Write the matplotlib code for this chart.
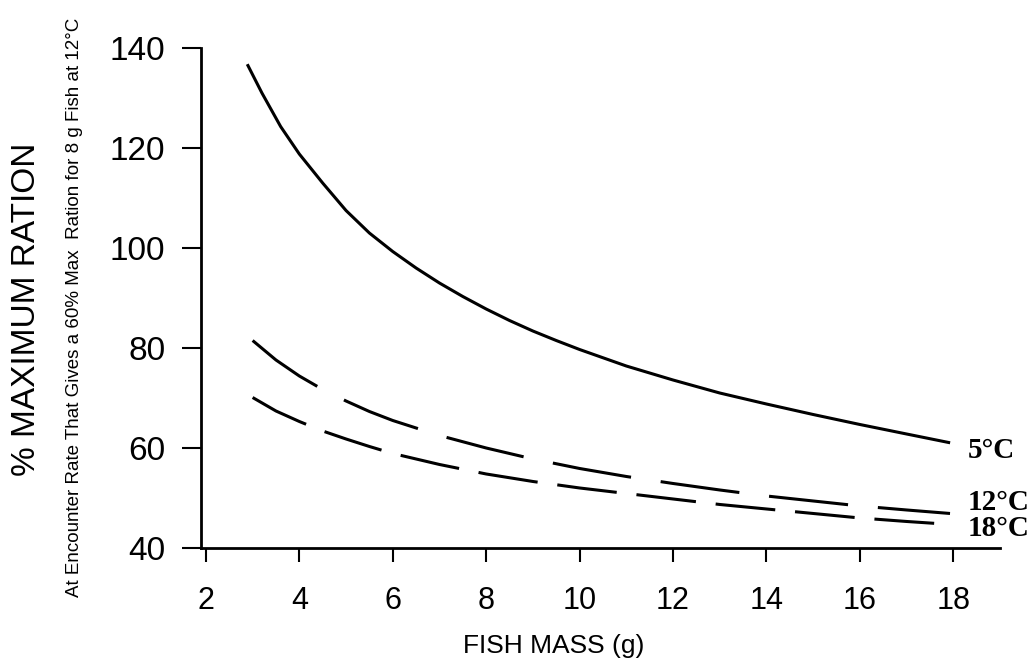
import matplotlib
matplotlib.use("Agg")
import matplotlib.pyplot as plt

# Data
x5 = [2.9, 3.2, 3.6, 4.0, 4.5, 5.0, 5.5, 6.0, 6.5, 7.0, 7.5, 8.0, 8.5, 9.0, 9.5,
      10, 11, 12, 13, 14, 15, 16, 17, 17.9]
y5 = [136.5, 131, 124.3, 118.8, 113, 107.5, 103, 99.3, 96, 93, 90.3, 87.8, 85.5,
      83.4, 81.5, 79.7, 76.4, 73.6, 71, 68.8, 66.7, 64.7, 62.8, 61.1]
x12 = [3.0, 3.5, 4.0, 4.5, 5.0, 5.5, 6.0, 7.0, 8.0, 9.0, 10, 11, 12, 13, 14, 15,
       16, 17, 17.93]
y12 = [81.5, 77.6, 74.4, 71.7, 69.4, 67.3, 65.5, 62.5, 60, 57.8, 55.9, 54.3, 52.9,
       51.6, 50.4, 49.4, 48.4, 47.6, 46.9]
x18 = [3.0, 3.5, 4.0, 4.5, 5.0, 5.5, 6.0, 7.0, 8.0, 9.0, 10, 11, 12, 13, 14, 15,
       16, 17, 17.8]
y18 = [70.1, 67.4, 65.3, 63.4, 61.8, 60.3, 58.9, 56.7, 54.8, 53.3, 52, 50.9, 49.8,
       48.7, 47.8, 46.9, 46.0, 45.3, 44.8]
xticks = [2, 4, 6, 8, 10, 12, 14, 16, 18]
yticks = [40, 60, 80, 100, 120, 140]
labels = ["5°C", "12°C", "18°C"]
label_y = [59.4, 49.0, 43.8]

plt.rcParams['font.family'] = ['Liberation Sans', 'DejaVu Sans']

fig = plt.figure(figsize=(10.32, 6.63), dpi=100)
ax = fig.add_axes([0.195, 0.1735, 0.774, 0.754])

lw = 2.2
ax.plot(x5, y5, color='black', lw=lw)
ax.plot(x12, y12, color='black', lw=lw, dashes=(26, 9.8))
ax.plot(x18, y18, color='black', lw=lw, dashes=(19.6, 6.5))

ax.set_xlim(1.9, 19.0)
ax.set_ylim(40, 140)
ax.set_xticks(xticks)
ax.set_yticks(yticks)
ax.tick_params(axis='y', direction='out', length=13.5, width=1.5, labelsize=24, pad=12.5)
ax.tick_params(axis='x', direction='out', length=10, width=1.5, labelsize=22, pad=17.5)
for s in ['top', 'right']:
    ax.spines[s].set_visible(False)
for s in ['left', 'bottom']:
    ax.spines[s].set_linewidth(2)

fig.text(0.537, 0.0151, "FISH MASS (g)", fontsize=19, ha='center', va='baseline')
fig.text(0.026, 0.534, "% MAXIMUM RATION", rotation=90, fontsize=24,
         ha='center', va='center')
fig.text(0.072, 0.537, "At Encounter Rate That Gives a 60% Max  Ration for 8 g Fish at 12°C",
         rotation=90, fontsize=13.5, ha='center', va='center')

for lab, yy in zip(labels, label_y):
    ax.annotate(lab, xy=(18.3, yy), xycoords='data', fontsize=21,
                fontweight='bold', family='Liberation Serif', ha='left',
                va='center', annotation_clip=False)

fig.savefig("out.png", dpi=100)
